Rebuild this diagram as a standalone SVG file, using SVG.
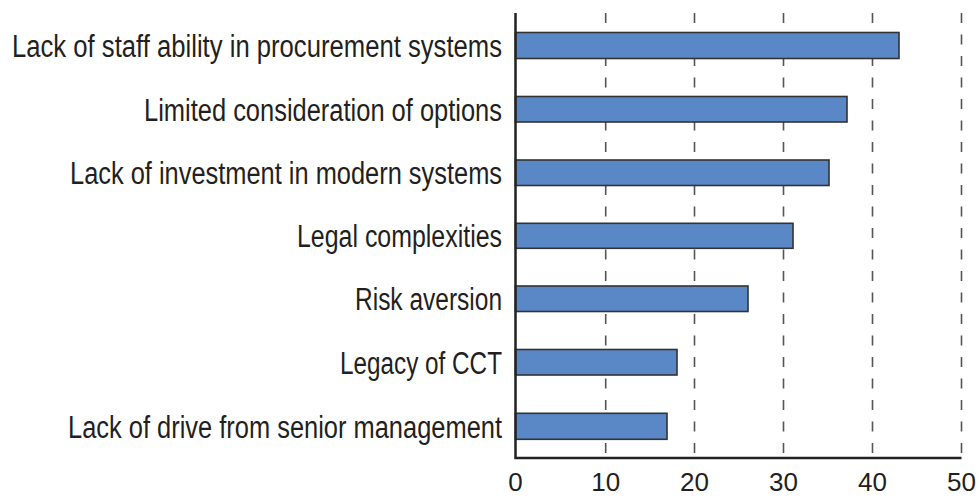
<svg xmlns="http://www.w3.org/2000/svg" width="979" height="498" viewBox="0 0 979 498">
<style>
.grid{stroke:#555;stroke-width:1.6;stroke-dasharray:10 11.5;fill:none}
.axis{stroke:#222;stroke-width:2.5;fill:none}
.bar{fill:#5a87c5;stroke:#333;stroke-width:1.6}
.lbl{font-family:"Liberation Sans",Arial,sans-serif;font-size:31px;fill:#231f20;text-anchor:end}
.tick{font-family:"Liberation Sans",Arial,sans-serif;font-size:26px;fill:#231f20;text-anchor:middle}
</style>
<rect width="979" height="498" fill="#fff"/>
<g id="gridlines">
<line class="grid" x1="605.7" y1="13" x2="605.7" y2="458"/>
<line class="grid" x1="694.5" y1="13" x2="694.5" y2="458"/>
<line class="grid" x1="783.5" y1="13" x2="783.5" y2="458"/>
<line class="grid" x1="872.5" y1="13" x2="872.5" y2="458"/>
<line class="grid" x1="961.5" y1="13" x2="961.5" y2="458"/>
</g>
<g id="bar1"><rect class="bar" x="515.5" y="32.5" width="383.5" height="26"/><text class="lbl" x="502" y="57" textLength="490" lengthAdjust="spacingAndGlyphs">Lack of staff ability in procurement systems</text></g>
<g id="bar2"><rect class="bar" x="515.5" y="96.5" width="331.5" height="25.5"/><text class="lbl" x="502" y="120.8" textLength="358" lengthAdjust="spacingAndGlyphs">Limited consideration of options</text></g>
<g id="bar3"><rect class="bar" x="515.5" y="160" width="313.5" height="25.5"/><text class="lbl" x="502" y="184.4" textLength="432" lengthAdjust="spacingAndGlyphs">Lack of investment in modern systems</text></g>
<g id="bar4"><rect class="bar" x="515.5" y="223.3" width="277.5" height="25"/><text class="lbl" x="502" y="247.3" textLength="205" lengthAdjust="spacingAndGlyphs">Legal complexities</text></g>
<g id="bar5"><rect class="bar" x="515.5" y="286" width="232.5" height="25.5"/><text class="lbl" x="502" y="310.3" textLength="147" lengthAdjust="spacingAndGlyphs">Risk aversion</text></g>
<g id="bar6"><rect class="bar" x="515.5" y="349.5" width="161.5" height="25.5"/><text class="lbl" x="502" y="373.8" textLength="162" lengthAdjust="spacingAndGlyphs">Legacy of CCT</text></g>
<g id="bar7"><rect class="bar" x="515.5" y="413.3" width="151.5" height="26"/><text class="lbl" x="502" y="437.8" textLength="434" lengthAdjust="spacingAndGlyphs">Lack of drive from senior management</text></g>
<g id="axes">
<polyline class="axis" points="515.5,13 515.5,458 961.5,458"/>
</g>
<g id="ticklabels">
<text class="tick" x="515.5" y="491">0</text>
<text class="tick" x="605.7" y="491">10</text>
<text class="tick" x="694.5" y="491">20</text>
<text class="tick" x="783.5" y="491">30</text>
<text class="tick" x="872.5" y="491">40</text>
<text class="tick" x="961.5" y="491">50</text>
</g>
</svg>
